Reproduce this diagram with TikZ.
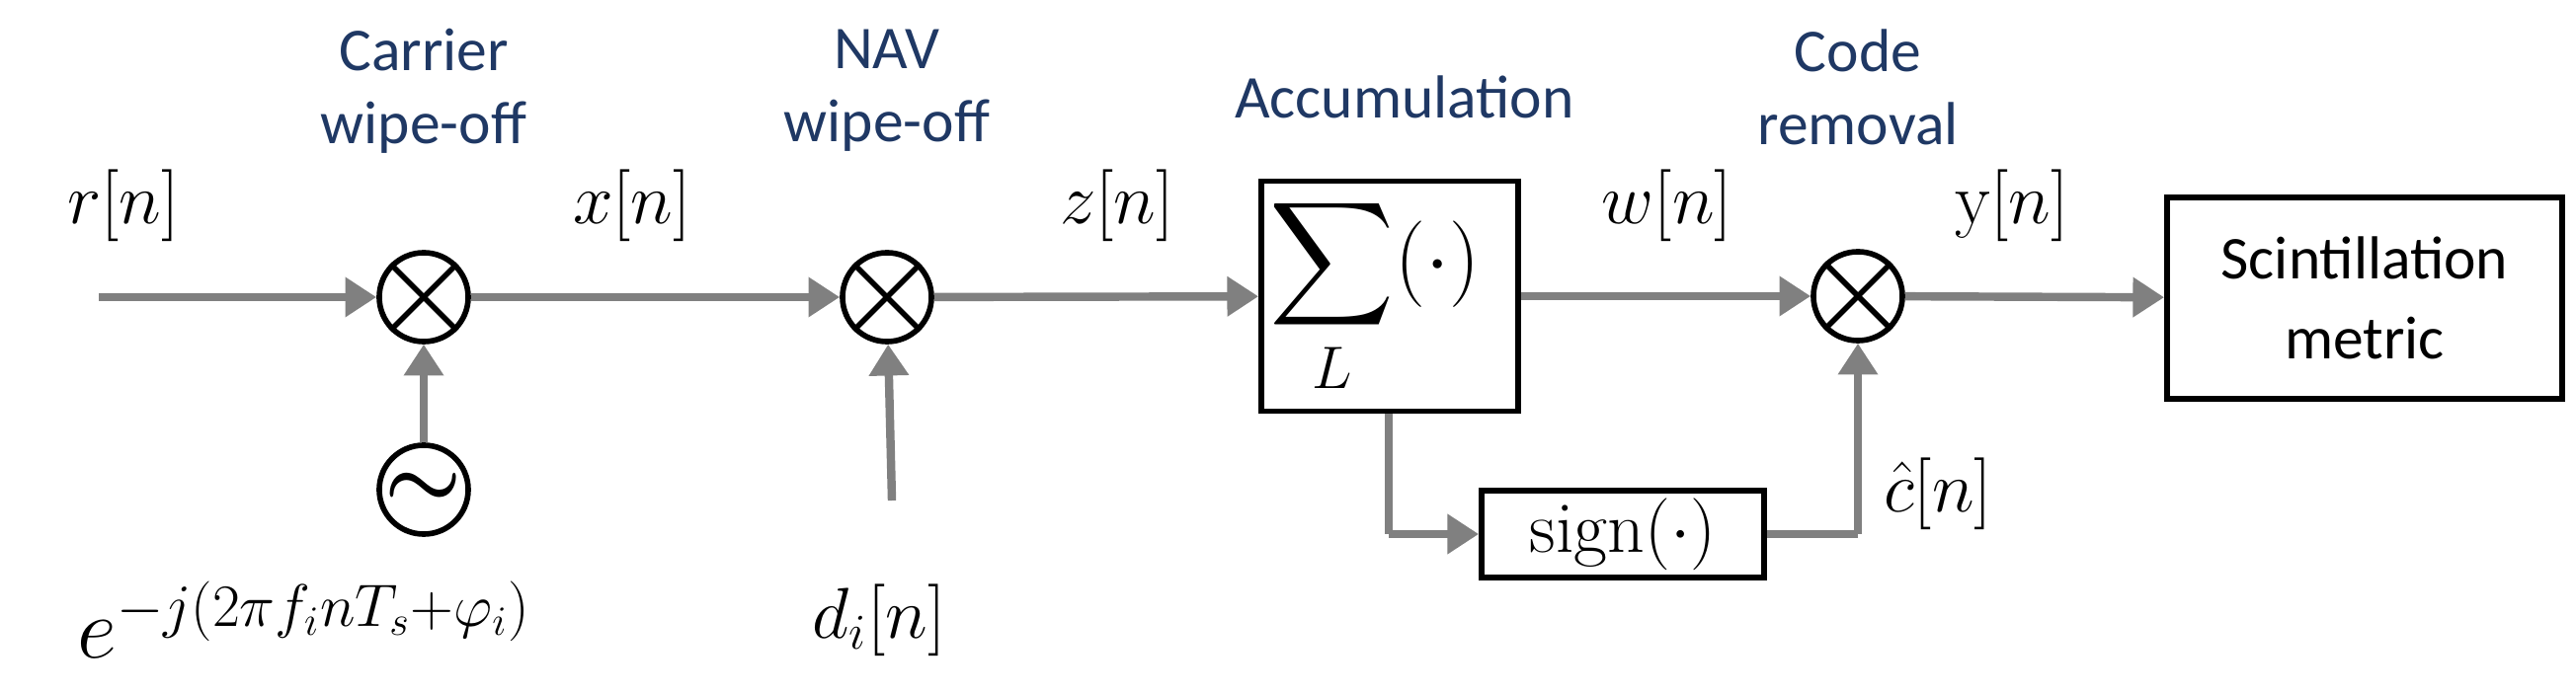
\documentclass[tikz,border=0pt]{standalone}
\usepackage{amsmath}
\usepackage{fontspec}
\setmainfont{Carlito}
\setmathrm{Latin Modern Roman}
\usetikzlibrary{arrows.meta}
\definecolor{gr}{RGB}{128,128,128}
\definecolor{ttl}{RGB}{31,56,100}
\begin{document}
\begin{tikzpicture}[x=0.01cm,y=-0.01cm,
  mix/.style={circle,draw,line width=1.6pt,minimum size=0.9cm,inner sep=0pt},
  box/.style={draw,line width=1.6pt,inner sep=0pt},
  sig/.style={draw=gr,line width=2.4pt,-{Triangle[length=9pt,width=11pt]}},
  wire/.style={draw=gr,line width=2.4pt},
  lab/.style={font=\fontsize{21}{24}\selectfont},
  ttl/.style={text=ttl,font=\fontsize{17.5}{21}\selectfont,align=center}]
\useasboundingbox (0,0) rectangle (2608,704);
\node[mix] (m1) at (429,301) {};
\node[mix] (osc) at (429,496) {};
\node[mix] (m2) at (898,301) {};
\node[mix] (m3) at (1881,300) {};
\foreach \m in {m1,m2,m3}{\draw[line width=1.6pt] (\m.north west)--(\m.south east) (\m.north east)--(\m.south west);}
\node[font=\fontsize{26}{26}\selectfont\bfseries] at (osc) {$\boldsymbol\sim$};
\node[box,minimum width=2.6cm,minimum height=2.33cm] (acc) at (1407,300) {};
\node[font=\fontsize{24}{26}\selectfont] (sum) at (1392,300) {$\displaystyle\sum_{L}(\cdot)$};
\node[box,minimum width=4.0cm,minimum height=2.04cm,align=center,font=\fontsize{17.5}{23}\selectfont] (sci) at (2394,302) {Scintillation\\metric};
\node[box,minimum width=2.86cm,minimum height=0.88cm,lab] (sg) at (1643,541) {$\mathrm{sign}(\cdot)$};
\coordinate (in) at (100,301);
\coordinate (d) at (903,507);
\coordinate (br) at (1406,541);
\coordinate (cr) at (1881,541);
\draw[sig] (in)--(m1);
\draw[sig] (osc)--(m1);
\draw[sig] (m1)--(m2);
\draw[sig] (d)--(m2);
\draw[sig] (m2)--(acc);
\draw[sig] (acc)--(m3);
\draw[sig] (m3)--(sci);
\draw[wire] (br|-acc.south)--(br);
\draw[sig] (br)--(sg);
\draw[wire] (sg)--(cr);
\draw[sig] (cr)--(m3);
\node[lab] at (125,208) {$r[n]$};
\node[lab] at (640,208) {$x[n]$};
\node[lab] at (1131,208) {$z[n]$};
\node[lab] at (1688,208) {$w[n]$};
\node[lab] at (2037,208) {$\mathrm{y}[n]$};
\node[lab] at (1962,500) {$\hat{c}[n]$};
\node[font=\fontsize{23}{26}\selectfont] at (308,628) {$e^{-j(2\pi f_i n T_s+\varphi_i)}$};
\node[lab] at (890,628) {$d_i[n]$};
\node[ttl] at (429,92) {Carrier\\wipe-off};
\node[ttl] at (898,92) {NAV\\wipe-off};
\node[ttl] at (1422,98) {Accumulation};
\node[ttl] at (1881,88) {Code\\removal};
\end{tikzpicture}
\end{document}
